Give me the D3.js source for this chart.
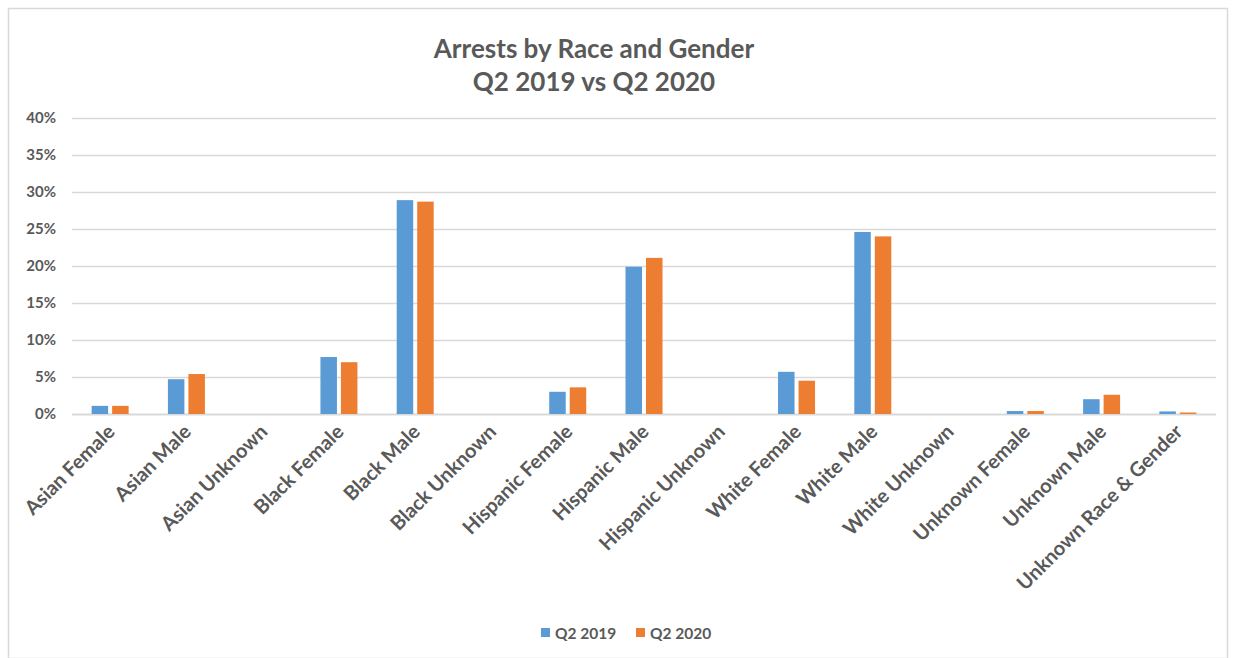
<!DOCTYPE html>
<html><head><meta charset="utf-8">
<script src="https://cdn.jsdelivr.net/npm/d3@7"></script>
<style>body{margin:0;background:#fff;} text{font-family:Lato, "Open Sans", sans-serif;}</style>
</head><body>
<svg id="chart" width="1236" height="658"></svg>
<script>
const categories = ["Asian Female","Asian Male","Asian Unknown","Black Female","Black Male","Black Unknown","Hispanic Female","Hispanic Male","Hispanic Unknown","White Female","White Male","White Unknown","Unknown Female","Unknown Male","Unknown Race & Gender"];
const seriesNames = ["Q2 2019","Q2 2020"];
const q2019 = [1.1, 4.7, 0, 7.7, 28.9, 0, 3.0, 19.9, 0, 5.7, 24.6, 0, 0.4, 2.0, 0.35];
const q2020 = [1.1, 5.4, 0, 7.0, 28.7, 0, 3.6, 21.1, 0, 4.5, 24.0, 0, 0.4, 2.6, 0.2];
const yTicks = [0,5,10,15,20,25,30,35,40];
const titleLines = ["Arrests by Race and Gender","Q2 2019 vs Q2 2020"];
const colors = ["#5B9BD5","#ED7D31"];

const svg = d3.select("#chart");
const W = 1236, H = 658;
const m = {left:72, right:20, top:118, bottom:244};
const textColor = "#595959";

// chart border
svg.append("rect").attr("x",8.5).attr("y",8.5).attr("width",W-17).attr("height",H-8)
  .attr("fill","#fff").attr("stroke","#d9d9d9").attr("stroke-width",1.5);

const x = d3.scaleBand().domain(categories).range([m.left, W-m.right]);
const y = d3.scaleLinear().domain([0,40]).range([H-m.bottom, m.top]);

// title
svg.append("g").selectAll("text").data(titleLines).join("text")
  .attr("x",594).attr("y",(d,i)=>58+i*33)
  .attr("text-anchor","middle").attr("font-size",26).attr("font-weight","bold")
  .attr("fill",textColor).text(d=>d);

// gridlines
svg.append("g").selectAll("line").data(yTicks).join("line")
  .attr("x1",m.left).attr("x2",W-m.right)
  .attr("y1",d=>Math.round(y(d))+0.5).attr("y2",d=>Math.round(y(d))+0.5)
  .attr("stroke","#d9d9d9").attr("stroke-width",d=>d===0?2:1.3);

// y axis
const yAxis = d3.axisLeft(y).tickValues(yTicks).tickFormat(d=>d+"%").tickSize(0).tickPadding(16);
const ya = svg.append("g").attr("transform",`translate(${m.left},0)`).call(yAxis);
ya.select(".domain").remove();
ya.selectAll("text").attr("font-size",15).attr("font-weight","bold").attr("fill",textColor)
  .style("font-family","Lato, sans-serif");

// bars
const barW = 16.5, gap = 4;
const data = [q2019, q2020];
data.forEach((vals, si) => {
  svg.append("g").selectAll("rect").data(categories).join("rect")
    .attr("x", (c)=> x(c) + x.bandwidth()/2 + (si===0 ? -gap/2-barW : gap/2))
    .attr("width", barW)
    .attr("y", (c,i)=> y(vals[i]))
    .attr("height", (c,i)=> y(0)-y(vals[i]))
    .attr("fill", colors[si]);
});

// x axis labels
const xAxis = d3.axisBottom(x).tickSize(0).tickPadding(0);
const xa = svg.append("g").attr("transform",`translate(0,${y(0)})`).call(xAxis);
xa.select(".domain").remove();
xa.selectAll("text")
  .attr("font-size",20).attr("font-weight","bold").attr("fill",textColor)
  .style("font-family","Lato, sans-serif")
  .attr("text-anchor","end").attr("dy",null).attr("y",0)
  .attr("transform","translate(6,19) rotate(-45)");

// legend
const legend = svg.append("g").attr("transform","translate(541,633)");
const lx = [0, 95];
seriesNames.forEach((s,i)=>{
  legend.append("rect").attr("x",lx[i]).attr("y",-5).attr("width",9).attr("height",9).attr("fill",colors[i]);
  legend.append("text").attr("x",lx[i]+14).attr("y",5.5).attr("font-size",15.5).attr("font-weight","bold")
    .attr("fill",textColor).text(s);
});
</script>
</body></html>
